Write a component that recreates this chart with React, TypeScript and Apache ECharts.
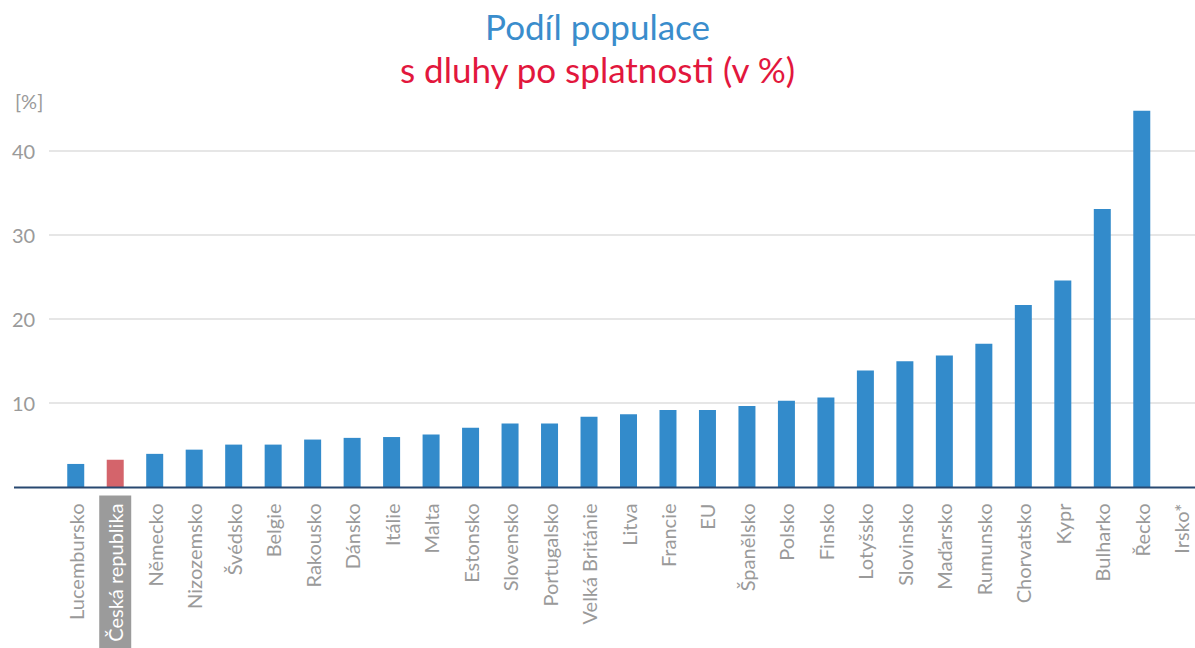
import React, { useEffect, useRef } from 'react';
import * as echarts from 'echarts';

const categories = [
  'Lucembursko', 'Česká republika', 'Německo', 'Nizozemsko', 'Švédsko', 'Belgie',
  'Rakousko', 'Dánsko', 'Itálie', 'Malta', 'Estonsko', 'Slovensko', 'Portugalsko',
  'Velká Británie', 'Litva', 'Francie', 'EU', 'Španělsko', 'Polsko', 'Finsko',
  'Lotyšsko', 'Slovinsko', 'Maďarsko', 'Rumunsko', 'Chorvatsko', 'Kypr', 'Bulharko',
  'Řecko', 'Irsko*',
];
const values: (number | null)[] = [
  2.8, 3.3, 4.0, 4.5, 5.1, 5.1, 5.7, 5.9, 6.0, 6.3, 7.1, 7.6, 7.6, 8.4, 8.7, 9.2,
  9.2, 9.7, 10.3, 10.7, 13.9, 15.0, 15.7, 17.1, 21.7, 24.6, 33.1, 44.8, null,
];
const highlighted = 'Česká republika';
const yTicks = [10, 20, 30, 40];

const FONT = 'Lato';
const BLUE = '#338bcb';
const RED_BAR = '#d4646b';
const GRAY = '#9a9a9a';

export default function App() {
  const ref = useRef<HTMLDivElement>(null);

  useEffect(() => {
    if (!ref.current) return;
    const chart = echarts.init(ref.current, undefined, { renderer: 'svg' });
    chart.setOption({
      animation: false,
      backgroundColor: '#ffffff',
      title: [
        {
          text: '{a|Podíl populace}\n{b|s dluhy po splatnosti (v %)}',
          left: 'center',
          top: 4,
          padding: [0, 0, 0, 14],
          textStyle: {
            rich: {
              a: { fontSize: 35, color: '#3a8dcc', fontFamily: FONT, fontWeight: 'normal', lineHeight: 43, align: 'center' },
              b: { fontSize: 35, color: '#e2173d', fontFamily: FONT, fontWeight: 'normal', lineHeight: 43, align: 'center' },
            },
          },
        },
        {
          text: '[%]',
          left: 10,
          top: 86,
          textStyle: { fontSize: 20, color: GRAY, fontWeight: 'normal', fontFamily: FONT },
        },
      ],
      grid: { left: 56, right: -6, top: 109, bottom: 160.5, containLabel: false, outerBoundsMode: 'none' },
      xAxis: {
        type: 'category',
        data: categories,
        axisLine: { show: false },
        axisTick: { show: false },
        axisLabel: {
          rotate: 90,
          interval: 0,
          margin: 8,
          fontFamily: FONT,
          fontSize: 20,
          color: GRAY,
          formatter: (v: string) => (v === highlighted ? `{hl|${v}}` : `{n|${v}}`),
          rich: {
            n: { fontFamily: FONT, fontSize: 20, color: GRAY, lineHeight: 21, padding: [0, 8, 0, 0] },
            hl: {
              fontFamily: FONT, fontSize: 20, color: '#ffffff', lineHeight: 21,
              backgroundColor: '#9b9b9b', padding: [6, 8, 6, 20],
            },
          },
        },
      },
      yAxis: {
        type: 'value',
        min: 0,
        max: 45,
        interval: 10,
        axisLine: { show: false },
        axisTick: { show: false },
        splitLine: { show: false },
        axisLabel: {
          align: 'left',
          margin: 44,
          fontFamily: FONT,
          fontSize: 20,
          color: GRAY,
          showMinLabel: false,
          formatter: (v: number) => (yTicks.indexOf(v) >= 0 ? String(v) : ''),
        },
      },
      series: [
        {
          type: 'bar',
          barWidth: 17,
          data: values.map((v, i) => ({
            value: v,
            itemStyle: { color: categories[i] === highlighted ? RED_BAR : BLUE },
          })),
        },
      ],
    });

    const w = chart.getWidth();
    const yPx = (v: number) => chart.convertToPixel({ yAxisIndex: 0 }, v) as number;
    const gridLines = yTicks.map((t) => ({
      type: 'line',
      z: 0,
      silent: true,
      shape: { x1: 49, y1: Math.round(yPx(t)), x2: w, y2: Math.round(yPx(t)) },
      style: { stroke: '#e6e6e6', lineWidth: 2 },
    }));
    const y0 = yPx(0);
    chart.setOption({
      graphic: [
        ...gridLines,
        {
          type: 'line',
          z: 10,
          silent: true,
          shape: { x1: 14, y1: y0, x2: w, y2: y0 },
          style: { stroke: '#284871', lineWidth: 2 },
        },
      ],
    });

    return () => chart.dispose();
  }, []);

  return (
    <div
      ref={ref}
      style={{ position: 'fixed', left: 0, top: 0, width: 1195, height: 648, background: '#fff' }}
    />
  );
}
